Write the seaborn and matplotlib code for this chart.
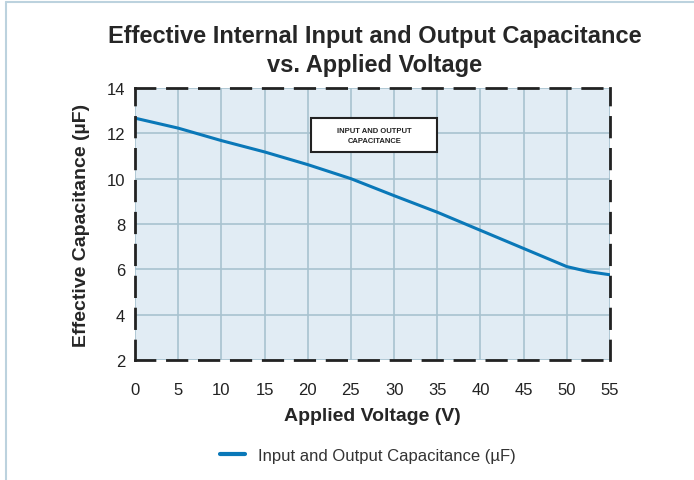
import matplotlib
matplotlib.use("Agg")
import matplotlib.pyplot as plt
import seaborn as sns
import pandas as pd
from matplotlib.lines import Line2D
from matplotlib.patches import Rectangle

voltage = [0, 5, 10, 15, 20, 25, 30, 35, 40, 45, 50, 52.5, 55]
capacitance = [12.67, 12.23, 11.68, 11.18, 10.62, 10.0, 9.25, 8.52, 7.72, 6.92, 6.12, 5.9, 5.76]
series_name = "Input and Output Capacitance (µF)"
x_ticks = list(range(0, 60, 5))
y_ticks = [2, 4, 6, 8, 10, 12, 14]

sns.set_theme(style="white")
plt.rcParams['font.family'] = ['Liberation Sans', 'DejaVu Sans']

df = pd.DataFrame({"Voltage": voltage, "Capacitance": capacitance, "Series": series_name})

fig = plt.figure(figsize=(6.94, 4.81), dpi=100)
ax = fig.add_axes([135/694, 1-361/481, 475/694, 272/481])
ax.set_facecolor("#e1ecf4")

sns.lineplot(data=df, x="Voltage", y="Capacitance", hue="Series",
             palette=["#0a78b8"], linewidth=2.2, ax=ax)

ax.set_xlim(0, 55)
ax.set_ylim(2, 14)
ax.set_xticks(x_ticks)
ax.set_yticks(y_ticks)
ax.grid(True, color="#a8c2cf", linewidth=1.2)
ax.set_axisbelow(True)
ax.tick_params(axis="both", labelsize=12, colors="#a8c2cf", labelcolor="#222222",
               length=4, width=1, pad=12)
ax.tick_params(axis="y", length=0, pad=7)

for s in ax.spines.values():
    s.set_visible(True)
    s.set_color("#222222")
    s.set_linewidth(2)
    s.set_linestyle((0, (7, 4.5)))

ax.set_xlabel("Applied Voltage (V)", fontsize=14, fontweight="bold", labelpad=7)
ax.set_ylabel("Effective Capacitance (µF)", fontsize=14, fontweight="bold", labelpad=12)

fig.text(375/694, 1-51/481, "Effective Internal Input and Output Capacitance\nvs. Applied Voltage",
         ha="center", va="center", fontsize=17, fontweight="bold", linespacing=1.3)

ax.add_patch(Rectangle((20.4, 11.17), 14.6, 1.5, facecolor="white", edgecolor="#222222",
                       linewidth=1.5, zorder=5))
ax.text(27.7, 11.92, "INPUT AND OUTPUT\nCAPACITANCE", ha="center", va="center",
        fontsize=5.5, fontweight="bold", color="#222222", linespacing=1.6, zorder=6)

leg = ax.legend(loc="center", bbox_to_anchor=(0.49, -0.35), frameon=False, fontsize=12,
                handlelength=1.5, handletextpad=0.8)
for h in leg.get_lines():
    h.set_linewidth(3)
for t in leg.get_texts():
    t.set_color("#333333")

fig.add_artist(Line2D([5.5/694, 5.5/694], [0, 1-3/481], color="#bcd2de", linewidth=1.5))
fig.add_artist(Line2D([5.5/694, 1], [1-3/481, 1-3/481], color="#bcd2de", linewidth=1.5))

fig.savefig("out.png", dpi=100)
